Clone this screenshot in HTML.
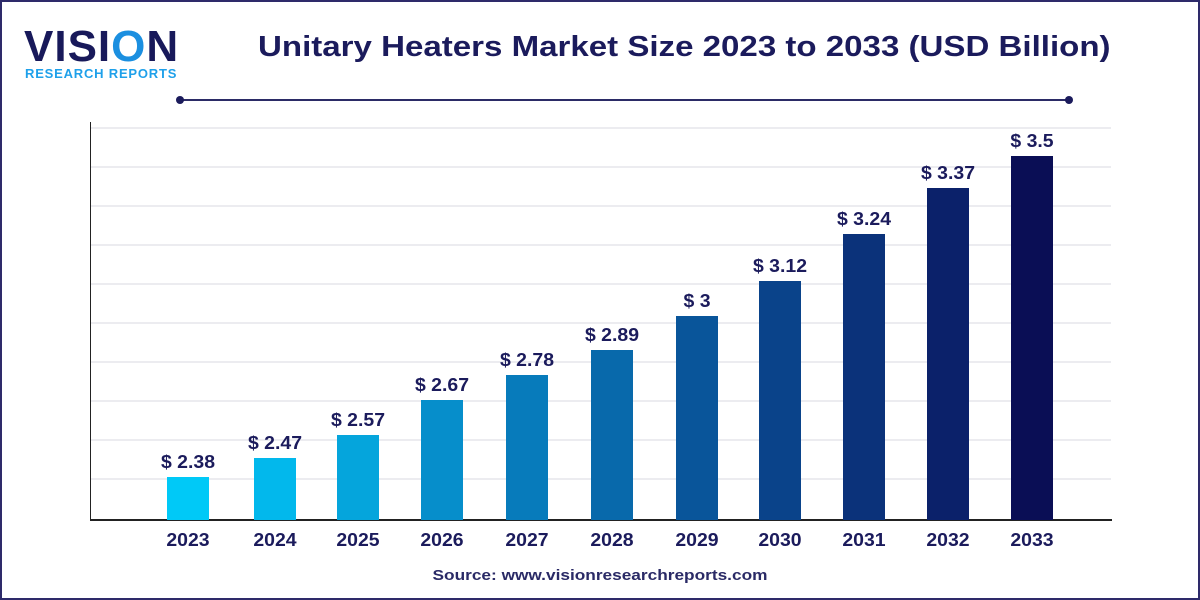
<!DOCTYPE html>
<html><head><style>
body{margin:0;width:1200px;height:600px;overflow:hidden;background:#fff;font-family:"Liberation Sans",sans-serif}
.frame{position:absolute;left:0;top:0;width:1196px;height:596px;border:2px solid #2e2a6a}
.t{position:absolute;color:#1b1b5c;font-weight:bold;white-space:nowrap}
.bar{position:absolute;width:42px}
.g{position:absolute;left:91px;width:1020px;height:2px;background:#ececf0}
.w{transform:scaleX(1.08)}
</style></head><body>
<div class="frame"></div>
<div class="t" style="left:24px;top:22px;font-size:44px;letter-spacing:1px;color:#18195a">VISI<span style="color:#1b8fe0">O</span>N</div>
<div class="t" style="left:25px;top:66px;font-size:13px;color:#1ea0ea;letter-spacing:0.8px">RESEARCH REPORTS</div>
<div class="t" style="left:258px;top:31px;font-size:29px;transform:scaleX(1.14);transform-origin:left center">Unitary Heaters Market Size 2023 to 2033 (USD Billion)</div>
<div style="position:absolute;left:179px;top:99px;width:890px;height:2px;background:#2b2b66"></div>
<div style="position:absolute;left:176px;top:96px;width:8px;height:8px;border-radius:50%;background:#1b1b5c"></div>
<div style="position:absolute;left:1065px;top:96px;width:8px;height:8px;border-radius:50%;background:#1b1b5c"></div>
<div class="g" style="top:127px"></div><div class="g" style="top:166px"></div><div class="g" style="top:205px"></div>
<div class="g" style="top:244px"></div><div class="g" style="top:283px"></div><div class="g" style="top:322px"></div>
<div class="g" style="top:361px"></div><div class="g" style="top:400px"></div><div class="g" style="top:439px"></div>
<div class="g" style="top:478px"></div>
<div style="position:absolute;left:90px;top:122px;width:1px;height:398px;background:#222"></div>
<div style="position:absolute;left:90px;top:519px;width:1022px;height:2px;background:#222"></div>
<div id="c"></div>
<script>
var d=[[188,477,"2.38","#00c9f7"],[275,458,"2.47","#02b8ec"],[358,435,"2.57","#05a5dc"],[442,400,"2.67","#068ecb"],[527,375,"2.78","#077bbb"],[612,350,"2.89","#0869ab"],[697,316,"3","#09559a"],[780,281,"3.12","#0a438a"],[864,234,"3.24","#0b327a"],[948,188,"3.37","#0b216a"],[1032,156,"3.5","#0a0e55"]];
var h="";
d.forEach(function(b,i){
h+='<div class="bar" style="left:'+(b[0]-21)+'px;top:'+b[1]+'px;height:'+(520-b[1])+'px;background:'+b[3]+'"></div>';
h+='<div class="t w" style="left:'+(b[0]-50)+'px;width:100px;text-align:center;top:'+(b[1]-25)+'px;font-size:18px">$ '+b[2]+'</div>';
h+='<div class="t w" style="left:'+(b[0]-50)+'px;width:100px;text-align:center;top:530px;font-size:18px">'+(2023+i)+'</div>';
});
document.getElementById("c").innerHTML=h;
</script>
<div class="t" style="left:0;width:1200px;text-align:center;top:567px;font-size:15px;color:#2a2a66;transform:scaleX(1.15)">Source: www.visionresearchreports.com</div>
</body></html>
